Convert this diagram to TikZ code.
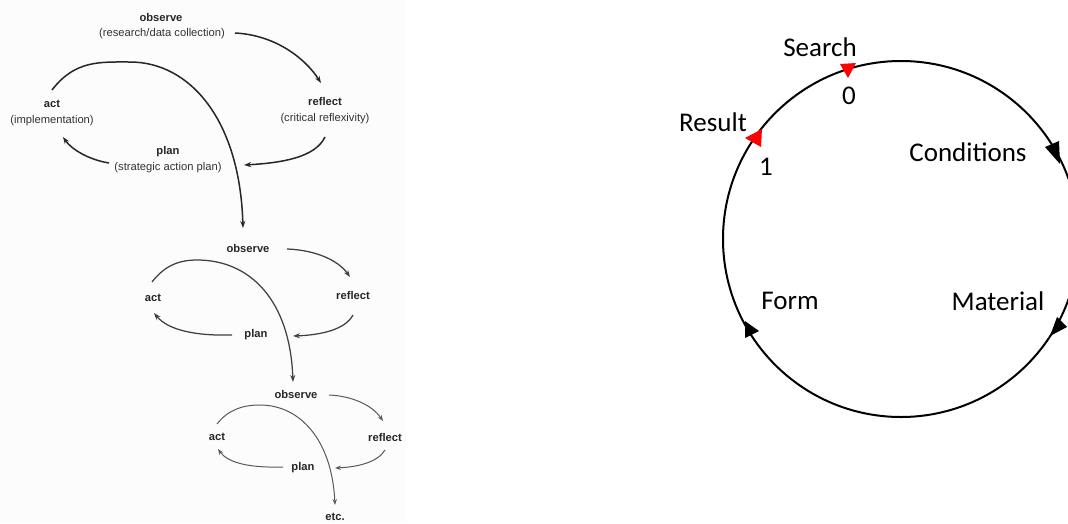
\documentclass[tikz,border=0pt]{standalone}
\usepackage{fontspec}
\setmainfont{Liberation Sans}
\newfontfamily\calib{Carlito}
\usetikzlibrary{arrows.meta}
\tikzset{
  lbl/.style={inner sep=0pt, font=\fontsize{11.2}{13}\selectfont\bfseries, text=black!85},
  sub/.style={inner sep=0pt, font=\fontsize{11.2}{13}\selectfont, text=black!80},
  cyc/.style={draw=black!85, line width=1.5pt, -{Stealth[length=7pt,width=5pt]}},
  cycb/.style={cyc, draw=black!75, line width=1.25pt},
  cycc/.style={cyc, draw=black!65, line width=1pt, -{Stealth[length=6pt,width=4.5pt]}},
  ctxt/.style={inner sep=0pt, font=\calib\fontsize{27}{32}\selectfont},
  ring/.style={draw=black, line width=2pt},
  bhead/.style={fill=black},
  rhead/.style={fill=red}
}
\begin{document}
\begin{tikzpicture}[x=1pt,y=-1pt]
\useasboundingbox (0,0) rectangle (1068,523);
\clip (0,0) rectangle (1068,523);
\fill[black!1] (0,0) rectangle (407,523);

% ---------- first cycle ----------
\node[lbl] (obs1) at (161,17) {observe};
\node[sub] (obs1s) at (162,34) {(research/data collection)};
\node[lbl] (ref1) at (325,101) {reflect};
\node[sub] (ref1s) at (325,119) {(critical reflexivity)};
\node[lbl] (pla1) at (168,152) {plan};
\node[sub] (pla1s) at (168,168) {(strategic action plan)};
\node[lbl] (act1) at (52,104) {act};
\node[sub] (act1s) at (52,121) {(implementation)};
\coordinate (a1s) at (235,33);  \coordinate (a1e) at (321,83);
\coordinate (b1s) at (325,137); \coordinate (b1e) at (244,165);
\coordinate (c1s) at (109,163); \coordinate (c1e) at (63,137);
\coordinate (d1s) at (52,90);   \coordinate (d1m) at (130,62); \coordinate (d1e) at (243,228);
\draw[cyc] (a1s) .. controls (275,35) and (305,58) .. (a1e);
\draw[cyc] (b1s) .. controls (315,158) and (280,163) .. (b1e);
\draw[cyc] (c1s) .. controls (90,160) and (72,150) .. (c1e);
\draw[cyc] (d1s) .. controls (75,60) and (100,62) .. (d1m) .. controls (190,62) and (240,120) .. (d1e);

% ---------- second cycle ----------
\node[lbl] (obs2) at (248,248) {observe};
\node[lbl] (ref2) at (353,295) {reflect};
\node[lbl] (pla2) at (256,335) {plan};
\node[lbl] (act2) at (153,298) {act};
\coordinate (a2s) at (287,249); \coordinate (a2e) at (350,277);
\coordinate (b2s) at (353,315); \coordinate (b2e) at (293,336);
\coordinate (c2s) at (232,335); \coordinate (c2e) at (154,313);
\coordinate (d2s) at (152,282); \coordinate (d2m) at (197,260); \coordinate (d2e) at (293,382);
\draw[cycb] (a2s) .. controls (315,250) and (338,260) .. (a2e);
\draw[cycb] (b2s) .. controls (345,330) and (320,335) .. (b2e);
\draw[cycb] (c2s) .. controls (195,336) and (168,330) .. (c2e);
\draw[cycb] (d2s) .. controls (165,265) and (180,260) .. (d2m) .. controls (250,260) and (290,300) .. (d2e);

% ---------- third cycle ----------
\node[lbl] (obs3) at (296,394) {observe};
\node[lbl] (ref3) at (385,437) {reflect};
\node[lbl] (pla3) at (303,468) {plan};
\node[lbl] (act3) at (217,437) {act};
\node[lbl] (etc) at (335,517) {etc.};
\coordinate (a3s) at (329,395); \coordinate (a3e) at (383,421);
\coordinate (b3s) at (385,450); \coordinate (b3e) at (335,468);
\coordinate (c3s) at (283,467); \coordinate (c3e) at (218,449);
\coordinate (d3s) at (217,424); \coordinate (d3m) at (260,405); \coordinate (d3e) at (335,505);
\draw[cycc] (a3s) .. controls (352,396) and (372,405) .. (a3e);
\draw[cycc] (b3s) .. controls (378,462) and (358,467) .. (b3e);
\draw[cycc] (c3s) .. controls (250,468) and (228,463) .. (c3e);
\draw[cycc] (d3s) .. controls (228,410) and (242,405) .. (d3m) .. controls (300,405) and (332,440) .. (d3e);

% ---------- circle ----------
\coordinate (cc) at (901,239);
\draw[ring] (cc) circle[radius=178pt];
\fill[bhead] (1045,147) -- (1059,141) -- (1060,164) -- cycle;
\fill[bhead] (1057,317) -- (1067,327) -- (1050,336) -- cycle;
\fill[bhead] (745,321) -- (745,338) -- (759,331) -- cycle;
\fill[rhead] (840,64) -- (856,63) -- (848,78) -- cycle;
\fill[rhead] (745,138) -- (762,129) -- (761,147) -- cycle;

\node[ctxt] (search) at (820,47) {Search};
\node[ctxt] (zero) at (849,96) {0};
\node[ctxt] (result) at (713,122) {Result};
\node[ctxt] (one) at (766,167) {1};
\node[ctxt] (cond) at (968,152) {Conditions};
\node[ctxt] (form) at (790,301) {Form};
\node[ctxt] (mat) at (998,301) {Material};
\end{tikzpicture}
\end{document}
